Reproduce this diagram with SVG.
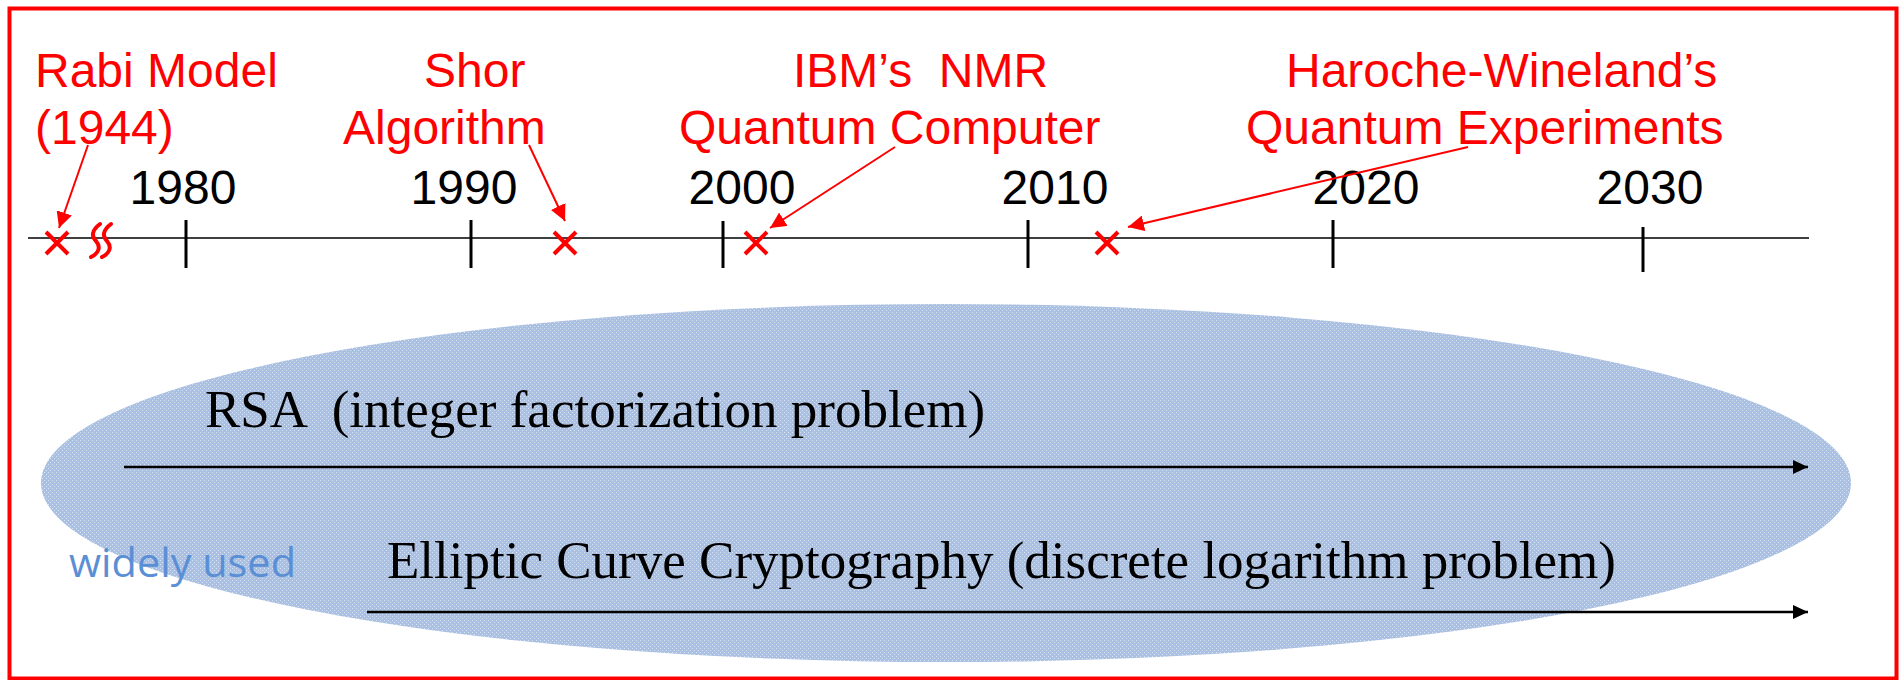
<svg xmlns="http://www.w3.org/2000/svg" width="1899" height="680" viewBox="0 0 1899 680">
  <style>
    .red { font-family: "Liberation Sans", Arial, sans-serif; font-size: 48px; fill: #FF0000; white-space: pre; }
    .year { font-family: "Liberation Sans", Arial, sans-serif; font-size: 48px; fill: #000; text-anchor: middle; }
    .serif { font-family: "Liberation Serif", "Times New Roman", serif; font-size: 53px; fill: #000; white-space: pre; }
    .blue { font-family: "Open Sans", "Noto Sans", sans-serif; font-size: 41px; fill: #5B8FD5; }
    .tick { stroke: #000; stroke-width: 3; }
    .cross { stroke: #FF0000; stroke-width: 4; }
    .redarrow { stroke: #FF0000; stroke-width: 2; fill: none; marker-end: url(#redhead); }
    .blackarrow { stroke: #000; stroke-width: 2.5; fill: none; marker-end: url(#blackhead); }
  </style>
  <defs>
    <marker id="redhead" markerUnits="userSpaceOnUse" markerWidth="18" markerHeight="16" refX="16" refY="8" orient="auto">
      <path d="M0,0 L16,8 L0,16 Z" fill="#FF0000"/>
    </marker>
    <marker id="blackhead" markerUnits="userSpaceOnUse" markerWidth="16" markerHeight="16" refX="15" refY="8" orient="auto">
      <path d="M0,1 L15,8 L0,15 Z" fill="#000"/>
    </marker>
    <pattern id="dots" patternUnits="userSpaceOnUse" width="4" height="4">
      <rect width="4" height="4" fill="#A9C0E3"/>
      <rect x="0" y="0" width="1" height="1" fill="#D8E3F4"/>
      <rect x="2" y="2" width="1" height="1" fill="#D8E3F4"/>
    </pattern>
  </defs>

  <rect x="0" y="0" width="1899" height="680" fill="#FFFFFF"/>
  <rect id="frame" x="9.5" y="8.5" width="1887" height="670" fill="none" stroke="#FF0000" stroke-width="4"/>

  <g id="usage-ellipse">
    <ellipse cx="946" cy="483" rx="905" ry="179" fill="url(#dots)"/>
  </g>

  <g id="timeline">
    <line x1="28" y1="238" x2="1809" y2="238" stroke="#000" stroke-width="1.5"/>
    <line class="tick" x1="186" y1="220" x2="186" y2="268"/>
    <line class="tick" x1="471" y1="220" x2="471" y2="268"/>
    <line class="tick" x1="723" y1="221" x2="723" y2="268"/>
    <line class="tick" x1="1028" y1="220" x2="1028" y2="268"/>
    <line class="tick" x1="1333" y1="220" x2="1333" y2="268"/>
    <line class="tick" x1="1643" y1="227" x2="1643" y2="272"/>
    <text class="year" x="183" y="204">1980</text>
    <text class="year" x="464" y="204">1990</text>
    <text class="year" x="742" y="204">2000</text>
    <text class="year" x="1055" y="204">2010</text>
    <text class="year" x="1366" y="204">2020</text>
    <text class="year" x="1650" y="204">2030</text>
    <g id="break-mark" fill="none" stroke="#FF0000" stroke-width="4" stroke-linecap="round">
      <path d="M100,224 C92,230 91,236 96,241 C101,247 99,253 91,257"/>
      <path d="M111,224 C103,230 102,236 107,241 C112,247 110,253 102,257"/>
    </g>
  </g>

  <g id="rabi">
    <text class="red" x="35" y="87">Rabi Model</text>
    <text class="red" x="35" y="144">(1944)</text>
    <path class="cross" d="M46,232 L68,254 M68,232 L46,254"/>
  </g>

  <g id="shor">
    <text class="red" x="424" y="87">Shor</text>
    <text class="red" x="343" y="144">Algorithm</text>
    <path class="cross" d="M554,232 L576,254 M576,232 L554,254"/>
  </g>

  <g id="ibm">
    <text class="red" x="793" y="87">IBM’s  NMR</text>
    <text class="red" x="679" y="144">Quantum Computer</text>
    <path class="cross" d="M745,232 L767,254 M767,232 L745,254"/>
  </g>

  <g id="haroche">
    <text class="red" x="1286" y="87">Haroche-Wineland’s</text>
    <text class="red" x="1246" y="144">Quantum Experiments</text>
    <path class="cross" d="M1096,232 L1118,254 M1118,232 L1096,254"/>
  </g>

  <g id="rsa">
    <text class="serif" x="205" y="427">RSA  (integer factorization problem)</text>
  </g>

  <g id="ecc">
    <text class="serif" x="387" y="578">Elliptic Curve Cryptography (discrete logarithm problem)</text>
  </g>

  <g id="widely-used">
    <text class="blue" x="69" y="577" textLength="227" lengthAdjust="spacingAndGlyphs">widely used</text>
  </g>

  <g id="connectors">
    <line class="redarrow" x1="88" y1="145" x2="59" y2="228"/>
    <line class="redarrow" x1="529" y1="145" x2="565" y2="221"/>
    <line class="redarrow" x1="895" y1="147" x2="770" y2="228"/>
    <line class="redarrow" x1="1468" y1="147" x2="1128" y2="227"/>
    <line class="blackarrow" x1="124" y1="467" x2="1808" y2="467"/>
    <line class="blackarrow" x1="367" y1="612" x2="1808" y2="612"/>
  </g>
</svg>
